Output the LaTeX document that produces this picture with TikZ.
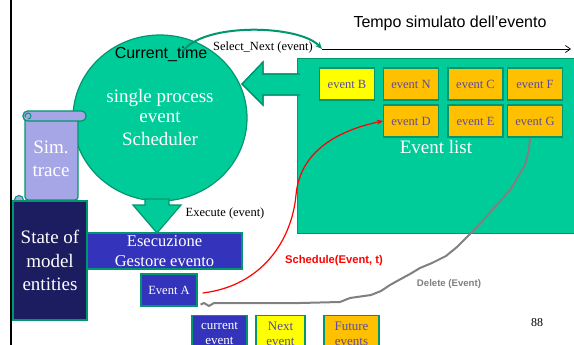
\documentclass[tikz,border=0pt]{standalone}
\usepackage{fontspec}
\setmainfont{Liberation Serif}
\newfontfamily\arial{Liberation Sans}
\usetikzlibrary{arrows.meta,shapes.geometric}
\definecolor{tealfill}{RGB}{0,204,153}
\definecolor{tealline}{RGB}{0,150,110}
\definecolor{navy}{RGB}{28,28,96}
\definecolor{eblue}{RGB}{51,51,187}
\definecolor{lav}{RGB}{166,166,230}
\definecolor{etext}{RGB}{90,75,165}
\definecolor{eorange}{RGB}{255,192,0}
\definecolor{eyellow}{RGB}{255,255,0}
\definecolor{lgray}{RGB}{128,128,128}
\begin{document}
\begin{tikzpicture}[x=1pt,y=-1pt,
  tealshape/.style={draw=tealline, fill=tealfill, line width=1.2pt},
  evbox/.style={draw=tealline, line width=1.2pt, minimum width=55pt, minimum height=32pt, inner sep=0pt, text=etext, font=\fontsize{12.5}{15}\selectfont},
  bluebox/.style={draw=tealline, line width=1.2pt, fill=eblue, inner sep=0pt, text=white, align=center},
  legbox/.style={draw=tealline, line width=1.2pt, inner sep=0pt, align=center, minimum height=36pt, font=\fontsize{13}{15}\selectfont},
  smalllbl/.style={font=\fontsize{12.5}{14}\selectfont}
]
\useasboundingbox (0,0) rectangle (574,345);
\fill[white] (0,0) rectangle (574,345);

% left border line
\draw[line width=2.5pt] (11,0) -- (11,345);

% time axis
\coordinate (t0) at (322,49);
\coordinate (t1) at (571,49);
\draw[line width=0.7pt, -{Straight Barb[length=5pt,width=7pt]}] (t0) -- (t1);
\node[font=\arial\fontsize{16}{18}\selectfont] (tempo) at (450,23) {Tempo simulato dell’evento};

% event list box
\node[tealshape, minimum width=290pt, minimum height=175pt, inner sep=0pt, anchor=north west] (evlist) at (297,58) {};
\node[text=white, font=\fontsize{19}{22}\selectfont] (evlistlbl) at (436,147) {Event list};

% block arrow from list to scheduler
\path[tealshape] (300,74) -- (263,74) -- (263,62) -- (242,84) -- (263,105) -- (263,95) -- (300,95);
\draw[tealline, line width=1.2pt] (297,74) -- (263,74) -- (263,62) -- (242,84) -- (263,105) -- (263,95) -- (297,95);

% events
\node[evbox, fill=eyellow] (evB) at (347,84) {event B};
\node[evbox, fill=eorange] (evN) at (411,84) {event N};
\node[evbox, fill=eorange] (evC) at (475.5,84) {event C};
\node[evbox, fill=eorange] (evF) at (535,84) {event F};
\node[evbox, fill=eorange] (evD) at (411,121) {event D};
\node[evbox, fill=eorange] (evE) at (475.5,121) {event E};
\node[evbox, fill=eorange] (evG) at (535,121) {event G};

% scheduler
\node[ellipse, tealshape, minimum width=174pt, minimum height=166pt, inner sep=0pt,
      text=white, align=center, font=\fontsize{19}{23}\selectfont] (sched) at (160,118)
      {\raisebox{-3pt}{single process}\\event\\Scheduler};
\node[font=\arial\fontsize{16}{18}\selectfont] (curtime) at (161,54) {Current\_time};

% select next arrow
\coordinate (selstart) at (183,51);
\draw[tealline, line width=2pt, -{Stealth[length=7pt,width=6pt]}] (selstart) .. controls (205,22) and (300,25) .. (t0);
\node[smalllbl] (sellbl) at (263,47) {Select\_Next (event)};

% down arrow
\path[tealshape] (145,199) -- (169,199) -- (169,205) -- (181,205) -- (157,233) -- (133,205) -- (145,205) -- cycle;
\node[smalllbl] (execlbl) at (225,213) {Execute (event)};

% sim trace scroll
\path[draw=tealline, fill=lav, line width=1.2pt, rounded corners=3pt] (25,116) rectangle (78,200);
\path[draw=tealline, fill=lav, line width=1.2pt, rounded corners=4.5pt] (23,111) rectangle (86,121);
\draw[tealline, line width=1pt] (28,119) arc (90:-200:3);
\path[draw=tealline, fill=lav, line width=1pt] (19,200) circle (4.5);
\draw[tealline, line width=1pt] (19,202) arc (-90:160:2);
\node[text=white, align=center, font=\fontsize{19}{23}\selectfont] (simtrace) at (51,159) {Sim.\\trace};

% state of model entities
\node[draw=tealline, line width=1.2pt, fill=navy, text=white, align=center, inner sep=0pt,
      minimum width=74pt, minimum height=119pt, font=\fontsize{19}{23.5}\selectfont] (state) at (50,260.5)
      {State of\\model\\entities};

% esecuzione
\node[bluebox, minimum width=155pt, minimum height=36pt, font=\fontsize{16.5}{19.5}\selectfont] (esec) at (164.5,251) {Esecuzione\\Gestore evento};
\node[bluebox, minimum width=56pt, minimum height=32pt, font=\fontsize{12.5}{15}\selectfont] (evA) at (169,290) {Event A};

% schedule arrow
\draw[red, line width=1.2pt, -{Stealth[length=6pt,width=5pt]}] ([xshift=5pt,yshift=-3pt]evA.east) .. controls (262,286) and (292,240) .. (296,195) .. controls (300,150) and (340,130) .. (evD.west);
\node[text=red, font=\arial\bfseries\fontsize{11.2}{13}\selectfont] (schedlbl) at (334,261) {Schedule(Event, t)};

% delete line
\draw[lgray, line width=2pt, line join=round] ([xshift=-5pt]evG.south) -- (529,150) -- (525,165) -- (518,177) -- (511,189) -- (502,199) -- (494,208) -- (486,217) -- (476,228) -- (468,236) -- (457,247) -- (446,256) -- (432,263) -- (420,268) -- (410,274) -- (399,280) -- (390,285) -- (381,291) -- (371,295) -- (350,298) -- (340,302) -- (300,303) -- (214,303) -- (209,306) -- (204,303) -- ([xshift=3pt,yshift=2pt]evA.south east);
\node[text=lgray, font=\arial\bfseries\fontsize{9.6}{11}\selectfont] (dellbl) at (449,284) {Delete (Event)};

% legend
\node[legbox, fill=eblue, text=white, minimum width=55pt, anchor=north] (lcur) at (219.5,315) {current\\event};
\node[legbox, fill=eyellow, text=etext, minimum width=49pt, anchor=north] (lnext) at (280.5,315) {Next\\event};
\node[legbox, fill=eorange, text=etext, minimum width=55pt, anchor=north] (lfut) at (351.5,315) {Future\\events};

\node[font=\fontsize{12}{14}\selectfont] (pgnum) at (537,323) {88};
\end{tikzpicture}
\end{document}
